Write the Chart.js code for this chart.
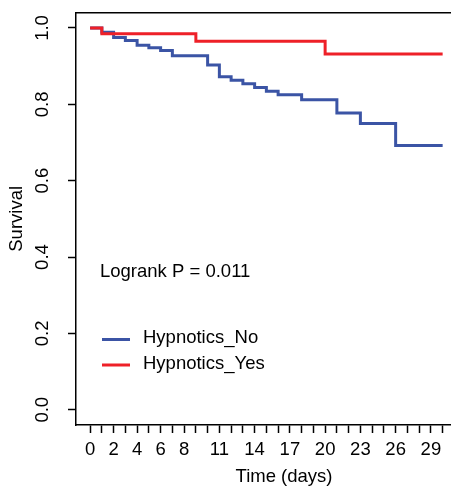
<!DOCTYPE html>
<html>
<head>
<meta charset="utf-8">
<script src="https://cdn.jsdelivr.net/npm/chart.js@4.4.1/dist/chart.umd.min.js"></script>
<style>
  html, body { margin: 0; padding: 0; background: #fff; overflow: hidden; }
  #wrap { width: 451px; height: 490px; overflow: hidden; }
  #km { display: block; }
</style>
</head>
<body>
<div id="wrap"><canvas id="km" width="505" height="490"></canvas></div>
<script>
// Kaplan-Meier steps
const groupNames = ['Hypnotics_No', 'Hypnotics_Yes'];
const noDays  = [0, 1, 2, 3, 4, 5, 6, 7, 10, 11, 12, 13, 14, 15, 16, 18, 21, 23, 26, 30];
const noSurv  = [1, 0.989, 0.975, 0.967, 0.955, 0.948, 0.941, 0.927, 0.903, 0.872, 0.863, 0.854, 0.844, 0.834, 0.825, 0.812, 0.777, 0.750, 0.692, 0.692];
const yesDays = [0, 1, 9, 20, 30];
const yesSurv = [1, 0.985, 0.965, 0.932, 0.932];
const pValueText = 'Logrank P = 0.011';

// axis ticks
const xTicks = [];
for (let d = 0; d <= 30; d++) xTicks.push(d);
const xTickLabels = [0, 2, 4, 6, 8, 11, 14, 17, 20, 23, 26, 29];
const yTicks = [0, 0.2, 0.4, 0.6, 0.8, 1.0];

const FONT = '"Liberation Sans", Arial, sans-serif';
const blue = '#3B54A5';
const red = '#EE2028';

const toXY = (xs, ys) => xs.map((x, i) => ({ x: x, y: ys[i] }));

// box on top (right side falls outside the picture) + legend text
const boxAndLegend = {
    id: 'boxAndLegend',
    beforeDatasetsDraw(chart) {
        const { ctx, chartArea: a } = chart;
        ctx.save();
        ctx.strokeStyle = '#000';
        ctx.lineWidth = 1.5;
        ctx.beginPath();
        ctx.moveTo(a.left, a.top);
        ctx.lineTo(a.right, a.top);
        ctx.lineTo(a.right, a.bottom);
        ctx.stroke();
        ctx.restore();
    },
    afterDraw(chart) {
        const { ctx, chartArea: a } = chart;
        ctx.save();
        ctx.font = '18.5px ' + FONT;
        ctx.fillStyle = '#000';
        ctx.textBaseline = 'middle';
        ctx.textAlign = 'left';
        ctx.fillText(pValueText, a.left + 24, 272);
        const rows = [339.5, 365];
        chart.data.datasets.forEach((ds, i) => {
            ctx.strokeStyle = ds.borderColor;
            ctx.lineWidth = 3;
            ctx.beginPath();
            ctx.moveTo(a.left + 26, rows[i]);
            ctx.lineTo(a.left + 54, rows[i]);
            ctx.stroke();
            ctx.fillText(ds.label, a.left + 67, rows[i] - 1.5);
        });
        ctx.restore();
    }
};

new Chart(document.getElementById('km'), {
    type: 'line',
    data: {
        datasets: [{
            label: groupNames[0],
            data: toXY(noDays, noSurv),
            borderColor: blue,
            borderWidth: 3,
            pointRadius: 0,
            stepped: true,
            fill: false,
            order: 1
        }, {
            label: groupNames[1],
            data: toXY(yesDays, yesSurv),
            borderColor: red,
            borderWidth: 3,
            pointRadius: 0,
            stepped: true,
            fill: false,
            order: 0
        }]
    },
    options: {
        responsive: false,
        animation: false,
        devicePixelRatio: 1,
        layout: { padding: { top: 12.7, right: 13, left: 0, bottom: 0 } },
        plugins: {
            legend: { display: false },
            tooltip: { enabled: false }
        },
        scales: {
            x: {
                type: 'linear',
                min: -1.2,
                max: 34.2,
                afterBuildTicks: (s) => { s.ticks = xTicks.map(v => ({ value: v })); },
                afterFit: (s) => { s.height = 65; s.paddingLeft = 0; s.paddingRight = 0; },
                border: { display: true, color: '#000', width: 1.5 },
                grid: { drawOnChartArea: false, drawTicks: true, tickLength: 8, tickColor: '#000', tickWidth: 1.5 },
                ticks: {
                    autoSkip: false,
                    maxRotation: 0,
                    padding: 6,
                    color: '#000',
                    font: { family: FONT, size: 18.5 },
                    callback: (v) => xTickLabels.includes(v) ? String(v) : ''
                },
                title: {
                    display: true,
                    text: 'Time (days)',
                    color: '#000',
                    font: { family: FONT, size: 18.5 },
                    padding: { top: 0, bottom: 2 }
                }
            },
            y: {
                min: -0.04,
                max: 1.04,
                afterBuildTicks: (s) => { s.ticks = yTicks.map(v => ({ value: v })); },
                afterFit: (s) => { s.width = 76; s.paddingTop = 0; s.paddingBottom = 0; },
                border: { display: true, color: '#000', width: 1.5 },
                grid: { drawOnChartArea: false, drawTicks: true, tickLength: 8, tickColor: '#000', tickWidth: 1.5 },
                ticks: {
                    minRotation: 90,
                    maxRotation: 90,
                    crossAlign: 'center',
                    padding: 12,
                    color: '#000',
                    font: { family: FONT, size: 18.5 },
                    callback: (v) => v.toFixed(1)
                },
                title: {
                    display: true,
                    text: 'Survival',
                    color: '#000',
                    font: { family: FONT, size: 18.5 },
                    padding: { top: 6, bottom: 0 }
                }
            }
        }
    },
    plugins: [boxAndLegend]
});
</script>
</body>
</html>
